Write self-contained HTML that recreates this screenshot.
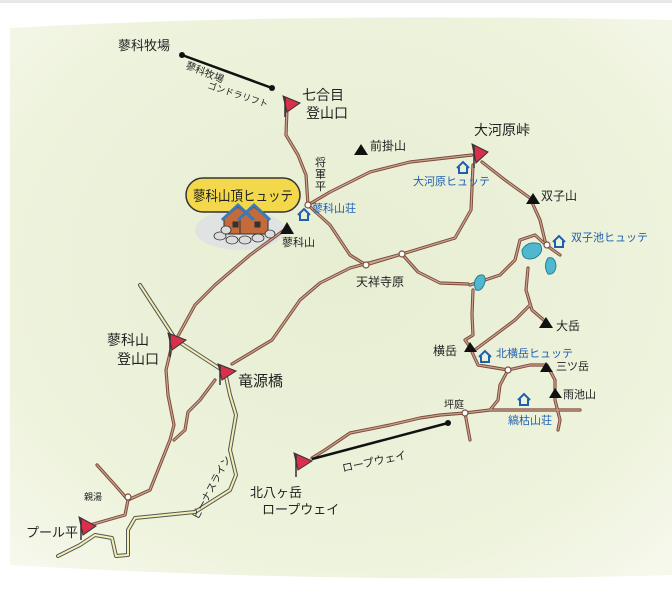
<!DOCTYPE html>
<html><head><meta charset="utf-8"><style>
html,body{margin:0;padding:0;background:#fff}
svg{display:block}
text{font-family:"Liberation Sans","Noto Sans CJK JP",sans-serif;fill:#222}
.b{fill:#1f5fb0}
</style></head><body>
<svg width="672" height="593" viewBox="0 0 672 593" xmlns="http://www.w3.org/2000/svg">
<defs>
<radialGradient id="bg" cx="0.5" cy="0.45" r="0.75">
<stop offset="0" stop-color="#e7eed2"/>
<stop offset="0.7" stop-color="#eef3dd"/>
<stop offset="1" stop-color="#f7f9ee"/>
</radialGradient>
</defs>
<rect width="672" height="593" fill="#fff"/>
<rect x="0" y="0" width="672" height="3" fill="#e8e8e8"/>
<path d="M10 28 Q300 12 672 20 L672 575 Q350 585 10 565 Z" fill="url(#bg)"/>
<ellipse cx="240" cy="230" rx="45" ry="20" fill="#dfe3e2"/>
<g fill="none" stroke-linecap="round" stroke-linejoin="round">
<path d="M140 285 L176 340 L222 370 M225 372 L230 395 L236 415 L230 450 L236 475 L230 490 L195 512 L135 518 L128 530 L128 555 L116 556 L112 538 L95 535 L80 545 L58 556" stroke="#555" stroke-width="4"/>
<path d="M140 285 L176 340 L222 370 M225 372 L230 395 L236 415 L230 450 L236 475 L230 490 L195 512 L135 518 L128 530 L128 555 L116 556 L112 538 L95 535 L80 545 L58 556" stroke="#f3efb0" stroke-width="2"/>
</g>
<g fill="none" stroke-linecap="round" stroke-linejoin="round" stroke="#7b4a3a" stroke-width="3.2">
<path id="t" d="M287 108 L286 135 L298 155 L306 175 L308 205 M308 205 L330 192 L370 172 L410 162 L472 155 M473 165 L471 210 L455 238 L402 254 L350 268 L320 283 L300 300 L272 340 L232 364 M308 205 L330 225 L350 255 L366 265 L402 254 M287 228 L250 255 L215 285 L195 305 L178 336 M172 345 L166 370 L168 395 L174 425 L170 440 L158 470 L150 490 L128 500 L125 515 L90 525 M128 500 L115 485 L97 465 M215 380 L200 400 L188 412 L185 430 L174 440 M402 254 L418 272 L440 283 L468 284 M482 162 L505 180 L530 198 L540 220 L546 245 L560 255 M546 245 L535 235 L520 240 L515 260 L500 275 L485 280 L470 285 M528 268 L526 290 L532 310 L546 322 M473 290 L472 315 L473 335 L465 340 L472 350 M472 352 L495 335 L515 320 L530 305 M472 352 L478 365 L508 370 L530 365 L547 365 L555 380 L555 400 L560 420 L558 430 M508 370 L500 385 L498 400 L490 410 L465 413 L440 415 L420 418 L390 425 L350 433 L325 450 L312 458 M490 410 L520 410 L580 410 M465 413 L470 440"/>
</g>
<g fill="none" stroke="#c9a28f" stroke-width="1.3" stroke-linecap="round" stroke-linejoin="round">
<use href="#t"/>
</g>
<path d="M182 55 L272 88" stroke="#111" stroke-width="2.5"/>
<circle cx="182" cy="55" r="3" fill="#111"/><circle cx="272" cy="88" r="3" fill="#111"/>
<path d="M312 459 L448 423" stroke="#111" stroke-width="2.5"/>
<circle cx="448" cy="423" r="3" fill="#111"/>
<g fill="#fff" stroke="#7b4a3a" stroke-width="1.2">
<circle cx="308" cy="205" r="3"/><circle cx="366" cy="265" r="3"/><circle cx="402" cy="254" r="3"/>
<circle cx="547" cy="245" r="3"/><circle cx="508" cy="370" r="3"/><circle cx="465" cy="413" r="3"/><circle cx="128" cy="497" r="3"/>
</g>
<g fill="#4fb8cf" stroke="#2a7c95" stroke-width="1">
<path d="M522 250 Q528 240 540 244 Q545 252 535 258 Q522 262 522 250Z"/>
<path d="M548 258 Q555 256 556 266 Q555 275 548 274 Q543 266 548 258Z"/>
<path d="M478 276 Q486 272 485 282 Q482 292 476 290 Q472 282 478 276Z"/>
</g>
<g fill="#d8304a" stroke="#333" stroke-width="1">
<path d="M283 96 L300 103 L287 112Z"/>
<path d="M472 144 L488 152 L476 163Z"/>
<path d="M168 333 L186 340 L172 350Z"/>
<path d="M218 364 L236 371 L222 380Z"/>
<path d="M294 453 L312 461 L298 470Z"/>
<path d="M79 517 L96 526 L83 535Z"/>
</g>
<g stroke="#333" stroke-width="1.5"><path d="M285 97 L285 117 M474 145 L474 168 M170 334 L170 357 M220 365 L220 385 M296 454 L296 477 M81 518 L81 540"/></g>
<g fill="#111">
<path d="M280 234 L287 222 L294 234Z"/><path d="M354 155 L361 144 L368 155Z"/>
<path d="M526 204 L533 193 L540 204Z"/><path d="M539 328 L546 317 L553 328Z"/>
<path d="M464 352 L470 342 L477 352Z"/><path d="M540 372 L546 362 L553 372Z"/><path d="M549 398 L555 388 L562 398Z"/>
</g>
<g fill="none" stroke="#1f5fb0" stroke-width="2">
<path d="M298 215 L304 209 L310 215 M300 214 L300 220 L308 220 L308 214"/>
<path d="M457 168 L463 162 L469 168 M459 167 L459 173 L467 173 L467 167"/>
<path d="M553 242 L559 236 L565 242 M555 241 L555 247 L563 247 L563 241"/>
<path d="M479 357 L485 351 L491 357 M481 356 L481 362 L489 362 L489 356"/>
<path d="M518 400 L524 394 L530 400 M520 399 L520 405 L528 405 L528 399"/>
</g>
<rect x="186" y="178" width="114" height="34" rx="17" fill="#f2d84a" stroke="#333" stroke-width="1.5"/>
<text x="193" y="201" font-size="14" textLength="100" lengthAdjust="spacingAndGlyphs" style="font-family:'Noto Sans CJK JP',sans-serif">蓼科山頂ヒュッテ</text>
<g stroke="#333" stroke-width="1">
<path d="M224 218 L238 207 L252 218 L252 234 L224 234Z" fill="#c56a3a"/>
<path d="M240 218 L254 207 L268 218 L268 234 L240 234Z" fill="#c56a3a"/>
<path d="M222 220 L238 205 L254 220" fill="none" stroke="#3a7ab8" stroke-width="3"/>
<path d="M238 220 L254 205 L270 220" fill="none" stroke="#3a7ab8" stroke-width="3"/>
<rect x="233" y="222" width="5" height="5" fill="#333"/><rect x="255" y="222" width="5" height="5" fill="#333"/>
</g>
<g fill="#ddd" stroke="#333" stroke-width="0.8">
<ellipse cx="220" cy="236" rx="6" ry="4"/><ellipse cx="232" cy="240" rx="6" ry="4"/><ellipse cx="245" cy="240" rx="6" ry="4"/><ellipse cx="258" cy="238" rx="6" ry="4"/><ellipse cx="270" cy="234" rx="5" ry="4"/><ellipse cx="226" cy="230" rx="5" ry="4"/>
</g>
<g font-size="13">
<text x="118" y="50">蓼科牧場</text>
<text x="185" y="68" font-size="10" transform="rotate(22 185 68)">蓼科牧場</text>
<text x="207" y="88" font-size="9" transform="rotate(18 207 88)">ゴンドラリフト</text>
<text x="302" y="100" font-size="14">七合目</text>
<text x="306" y="118" font-size="14">登山口</text>
<text x="315" y="166" font-size="11">将</text><text x="315" y="178" font-size="11">軍</text><text x="315" y="190" font-size="11">平</text>
<text x="312" y="212" font-size="11" class="b">蓼科山荘</text>
<text x="282" y="246" font-size="11">蓼科山</text>
<text x="370" y="150" font-size="12">前掛山</text>
<text x="474" y="135" font-size="14">大河原峠</text>
<text x="413" y="185" font-size="11" class="b">大河原ヒュッテ</text>
<text x="541" y="200" font-size="12">双子山</text>
<text x="571" y="241" font-size="11" class="b">双子池ヒュッテ</text>
<text x="356" y="286" font-size="12">天祥寺原</text>
<text x="556" y="330" font-size="12">大岳</text>
<text x="433" y="355" font-size="12">横岳</text>
<text x="496" y="357" font-size="11" class="b">北横岳ヒュッテ</text>
<text x="556" y="370" font-size="11">三ツ岳</text>
<text x="563" y="398" font-size="11">雨池山</text>
<text x="444" y="408" font-size="10">坪庭</text>
<text x="508" y="424" font-size="11" class="b">縞枯山荘</text>
<text x="343" y="472" font-size="11" transform="rotate(-12 343 472)">ロープウェイ</text>
<text x="250" y="497" font-size="13">北八ヶ岳</text>
<text x="262" y="514" font-size="13">ロープウェイ</text>
<text x="107" y="345" font-size="14">蓼科山</text>
<text x="117" y="364" font-size="14">登山口</text>
<text x="238" y="386" font-size="15">竜源橋</text>
<text x="84" y="500" font-size="9">親湯</text>
<text x="26" y="537" font-size="13">プール平</text>
<text x="198" y="520" font-size="10" transform="rotate(-62 198 520)">ビーナスライン</text>
</g>
</svg>
</body></html>
